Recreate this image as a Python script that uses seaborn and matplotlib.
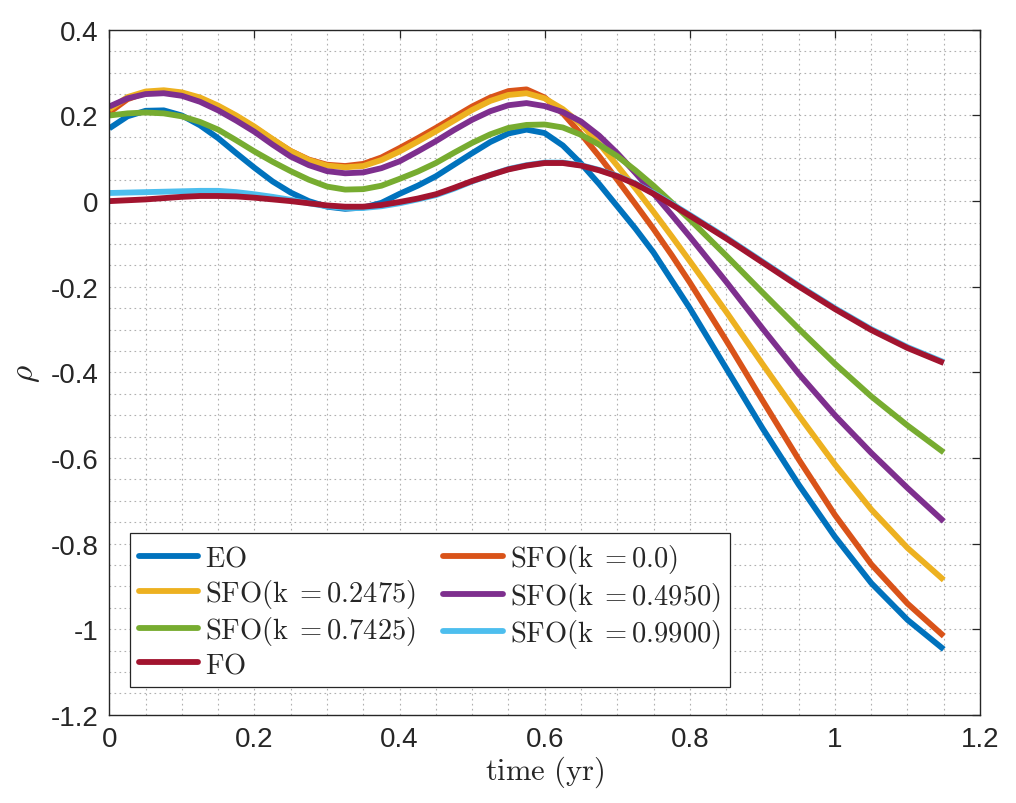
import numpy as np
import pandas as pd
import matplotlib
matplotlib.use("Agg")
import matplotlib.pyplot as plt
from matplotlib.lines import Line2D
from matplotlib.ticker import MultipleLocator, FuncFormatter
import seaborn as sns

# time samples (yr)
time = [0.0, 0.025, 0.05, 0.075, 0.1, 0.125, 0.15, 0.175, 0.2, 0.225, 0.25,
        0.275, 0.3, 0.325, 0.35, 0.375, 0.4, 0.425, 0.45, 0.475, 0.5,
        0.525, 0.55, 0.575, 0.6, 0.625, 0.65, 0.675, 0.7, 0.725, 0.75,
        0.775, 0.8, 0.85, 0.9, 0.95, 1.0, 1.05, 1.1, 1.15]

rho_eo = [0.170, 0.198, 0.211, 0.212, 0.200, 0.177, 0.147, 0.112, 0.078, 0.046, 0.020,
          0.000, -0.013, -0.018, -0.015, -0.004, 0.017, 0.036, 0.058, 0.085, 0.112,
          0.138, 0.158, 0.167, 0.159, 0.130, 0.088, 0.040, -0.012, -0.064, -0.120,
          -0.185, -0.250, -0.390, -0.530, -0.662, -0.784, -0.892, -0.978, -1.047]
rho_k0 = [0.207, 0.238, 0.253, 0.257, 0.252, 0.240, 0.221, 0.198, 0.172, 0.144, 0.117,
          0.097, 0.085, 0.082, 0.087, 0.102, 0.124, 0.147, 0.171, 0.196, 0.221,
          0.242, 0.257, 0.261, 0.242, 0.205, 0.157, 0.105, 0.050, -0.007, -0.065,
          -0.126, -0.190, -0.325, -0.465, -0.603, -0.733, -0.848, -0.940, -1.016]
rho_k1 = [0.214, 0.243, 0.256, 0.259, 0.254, 0.242, 0.223, 0.200, 0.174, 0.145, 0.117,
          0.096, 0.083, 0.079, 0.082, 0.096, 0.116, 0.139, 0.163, 0.188, 0.213,
          0.234, 0.248, 0.252, 0.240, 0.215, 0.180, 0.134, 0.083, 0.030, -0.025,
          -0.082, -0.140, -0.258, -0.380, -0.500, -0.615, -0.720, -0.810, -0.885]
rho_k2 = [0.221, 0.240, 0.250, 0.252, 0.246, 0.232, 0.212, 0.188, 0.162, 0.132, 0.104,
          0.084, 0.070, 0.065, 0.067, 0.077, 0.093, 0.116, 0.140, 0.166, 0.190,
          0.210, 0.224, 0.229, 0.222, 0.208, 0.186, 0.153, 0.112, 0.066, 0.018,
          -0.032, -0.083, -0.188, -0.297, -0.403, -0.500, -0.588, -0.670, -0.748]
rho_k3 = [0.200, 0.205, 0.207, 0.205, 0.198, 0.185, 0.167, 0.142, 0.116, 0.092, 0.070,
          0.050, 0.034, 0.027, 0.028, 0.036, 0.052, 0.069, 0.089, 0.113, 0.136,
          0.156, 0.171, 0.178, 0.179, 0.172, 0.155, 0.132, 0.105, 0.072, 0.036,
          -0.003, -0.043, -0.127, -0.213, -0.298, -0.380, -0.456, -0.524, -0.587]
rho_k4 = [0.019, 0.020, 0.021, 0.022, 0.023, 0.024, 0.024, 0.021, 0.016, 0.010, 0.003,
          -0.005, -0.012, -0.016, -0.016, -0.012, -0.005, 0.004, 0.014, 0.029, 0.046,
          0.061, 0.075, 0.084, 0.090, 0.090, 0.084, 0.073, 0.059, 0.041, 0.019,
          -0.006, -0.032, -0.085, -0.141, -0.197, -0.250, -0.299, -0.341, -0.376]
rho_fo = [0.000, 0.002, 0.004, 0.007, 0.010, 0.012, 0.012, 0.011, 0.008, 0.004, 0.000,
          -0.005, -0.010, -0.013, -0.013, -0.009, -0.002, 0.006, 0.016, 0.031, 0.047,
          0.061, 0.074, 0.083, 0.089, 0.089, 0.083, 0.072, 0.058, 0.040, 0.017,
          -0.008, -0.034, -0.087, -0.143, -0.199, -0.252, -0.301, -0.343, -0.378]

names = [r"$\mathrm{EO}$",
         r"$\mathrm{SFO(k\;{=}0.0)}$",
         r"$\mathrm{SFO(k\;{=}0.2475)}$",
         r"$\mathrm{SFO(k\;{=}0.4950)}$",
         r"$\mathrm{SFO(k\;{=}0.7425)}$",
         r"$\mathrm{SFO(k\;{=}0.9900)}$",
         r"$\mathrm{FO}$"]
series = [rho_eo, rho_k0, rho_k1, rho_k2, rho_k3, rho_k4, rho_fo]
colors = ["#0072BD", "#D95319", "#EDB120", "#7E2F8E", "#77AC30", "#4DBEEE", "#A2142F"]

df = pd.concat([pd.DataFrame({"time": time, "rho": s, "series": n})
                for n, s in zip(names, series)], ignore_index=True)

sns.set_theme(style="white")
plt.rcParams["font.family"] = ["Liberation Sans", "DejaVu Sans"]
plt.rcParams["mathtext.fontset"] = "cm"
plt.rcParams["axes.unicode_minus"] = False

fig = plt.figure(figsize=(10.16, 8.04), dpi=100)
ax = fig.add_axes([0.1076, 0.1096, 0.857, 0.852])

lw = 4.2
sns.lineplot(data=df, x="time", y="rho", hue="series", hue_order=names,
             palette=dict(zip(names, colors)), linewidth=lw, legend=False,
             estimator=None, sort=False, ax=ax)
for ln in ax.get_lines():
    ln.set_solid_joinstyle("round")
    ln.set_solid_capstyle("butt")

ax.set_xlim(0, 1.2)
ax.set_ylim(-1.2, 0.4)
ax.xaxis.set_major_locator(MultipleLocator(0.2))
ax.yaxis.set_major_locator(MultipleLocator(0.2))
ax.xaxis.set_minor_locator(MultipleLocator(0.05))
ax.yaxis.set_minor_locator(MultipleLocator(0.05))
fmt = FuncFormatter(lambda v, p: "%g" % round(v, 2))
ax.xaxis.set_major_formatter(fmt)
ax.yaxis.set_major_formatter(fmt)

ax.grid(which="both", linestyle=(0, (1.5, 3)), color="#b0b0b0", linewidth=0.8)
ax.set_axisbelow(True)
ax.tick_params(which="major", direction="in", length=5.5, width=0.9,
               top=True, right=True, labelsize=20, colors="#262626")
ax.tick_params(axis="x", pad=8)
ax.tick_params(axis="y", pad=8)
ax.tick_params(which="minor", length=0)
for sp in ax.spines.values():
    sp.set_color("#262626")
    sp.set_linewidth(1.0)

ax.set_xlabel(r"$\mathrm{time\ (yr)}$", fontsize=22, color="#262626", labelpad=1)
ax.set_ylabel(r"$\rho$", fontsize=24, color="#262626", labelpad=6)

# MATLAB-style legend order (row-wise, two columns)
leg_idx = [0, 2, 4, 6, 1, 3, 5]
handles = [Line2D([], [], color=colors[i], linewidth=lw) for i in leg_idx]
leg = ax.legend(handles, [names[i] for i in leg_idx], ncol=2, loc="lower left",
                bbox_to_anchor=(0.0238, 0.041), borderaxespad=0, fontsize=20.5,
                frameon=True, fancybox=False, edgecolor="#262626", framealpha=1,
                handlelength=2.1, handletextpad=0.25, columnspacing=0.95,
                labelspacing=0.17, borderpad=0.3)
leg.get_frame().set_linewidth(0.9)

fig.savefig("out.png", dpi=100, facecolor="white")
